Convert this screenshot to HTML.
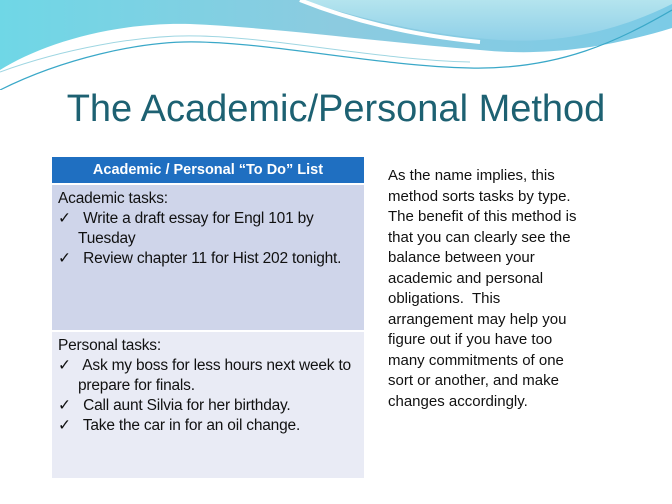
<!DOCTYPE html>
<html><head><meta charset="utf-8"><style>
body{margin:0;width:672px;height:504px;overflow:hidden;background:#fff;font-family:"Liberation Sans",sans-serif;position:relative}
.abs{position:absolute}
#title{left:0;width:672px;top:88px;text-align:center;font-size:38px;color:#1d6172;white-space:nowrap}
#hdr{left:52px;top:157px;width:312px;height:26px;background:#1f6fc1;color:#fff;font-weight:bold;font-size:14.5px;text-align:center;line-height:26px}
.cell{left:52px;width:312px;box-sizing:border-box;padding:4px 6px;font-size:15.5px;line-height:20px;color:#111;white-space:nowrap;letter-spacing:-0.2px}
#acad{top:185px;height:145px;background:#cfd5ea}
#pers{top:332px;height:146px;background:#e9ebf5}
.it{padding-left:20px;text-indent:-20px}
#side{left:388px;top:166px;width:260px;font-size:15px;line-height:20.5px;color:#111;white-space:nowrap}
</style></head><body>
<svg class="abs" style="left:0;top:0" width="672" height="90">
<defs><linearGradient id="g1" x1="0" y1="0" x2="1" y2="0"><stop offset="0" stop-color="#6fd7e6"/><stop offset="0.5" stop-color="#8ccbe0"/><stop offset="1" stop-color="#7ccbe6"/></linearGradient>
<linearGradient id="g2" x1="0" y1="0" x2="0" y2="1"><stop offset="0" stop-color="#b4e4ee"/><stop offset="1" stop-color="#8fd0e8"/></linearGradient></defs>
<path d="M0 0 H672 V28 C600 50 540 56 480 50 C380 42 280 28 190 24 C110 22 40 45 0 70 Z" fill="url(#g1)"/>
<path d="M300 0 H672 V4 C620 30 560 44 500 40 C420 34 360 18 300 0 Z" fill="url(#g2)"/>
<path d="M300 0 C340 16 400 34 480 42" stroke="#fff" stroke-width="4" fill="none"/>
<path d="M0 90 C60 60 140 40 200 42 C280 44 380 66 470 68 C560 70 620 40 672 10" stroke="#3aa8c8" stroke-width="1.2" fill="none"/>
<path d="M0 72 C60 50 140 34 200 36 C280 38 380 60 470 62" stroke="#9fd6e2" stroke-width="1" fill="none"/>
</svg>
<div id="title" class="abs">The Academic/Personal Method</div>
<div id="hdr" class="abs">Academic / Personal “To Do” List</div>
<div id="acad" class="abs cell">
<div>Academic tasks:</div>
<div class="it">✓&nbsp;&nbsp; Write a draft essay for Engl 101 by<br>Tuesday</div>
<div class="it">✓&nbsp;&nbsp; Review chapter 11 for Hist 202 tonight.</div>
</div>
<div id="pers" class="abs cell">
<div>Personal tasks:</div>
<div class="it">✓&nbsp;&nbsp; Ask my boss for less hours next week to<br>prepare for finals.</div>
<div class="it">✓&nbsp;&nbsp; Call aunt Silvia for her birthday.</div>
<div class="it">✓&nbsp;&nbsp; Take the car in for an oil change.</div>
</div>
<div id="side" class="abs">As the name implies, this<br>method sorts tasks by type.<br>The benefit of this method is<br>that you can clearly see the<br>balance between your<br>academic and personal<br>obligations.&nbsp; This<br>arrangement may help you<br>figure out if you have too<br>many commitments of one<br>sort or another, and make<br>changes accordingly.</div>
</body></html>
